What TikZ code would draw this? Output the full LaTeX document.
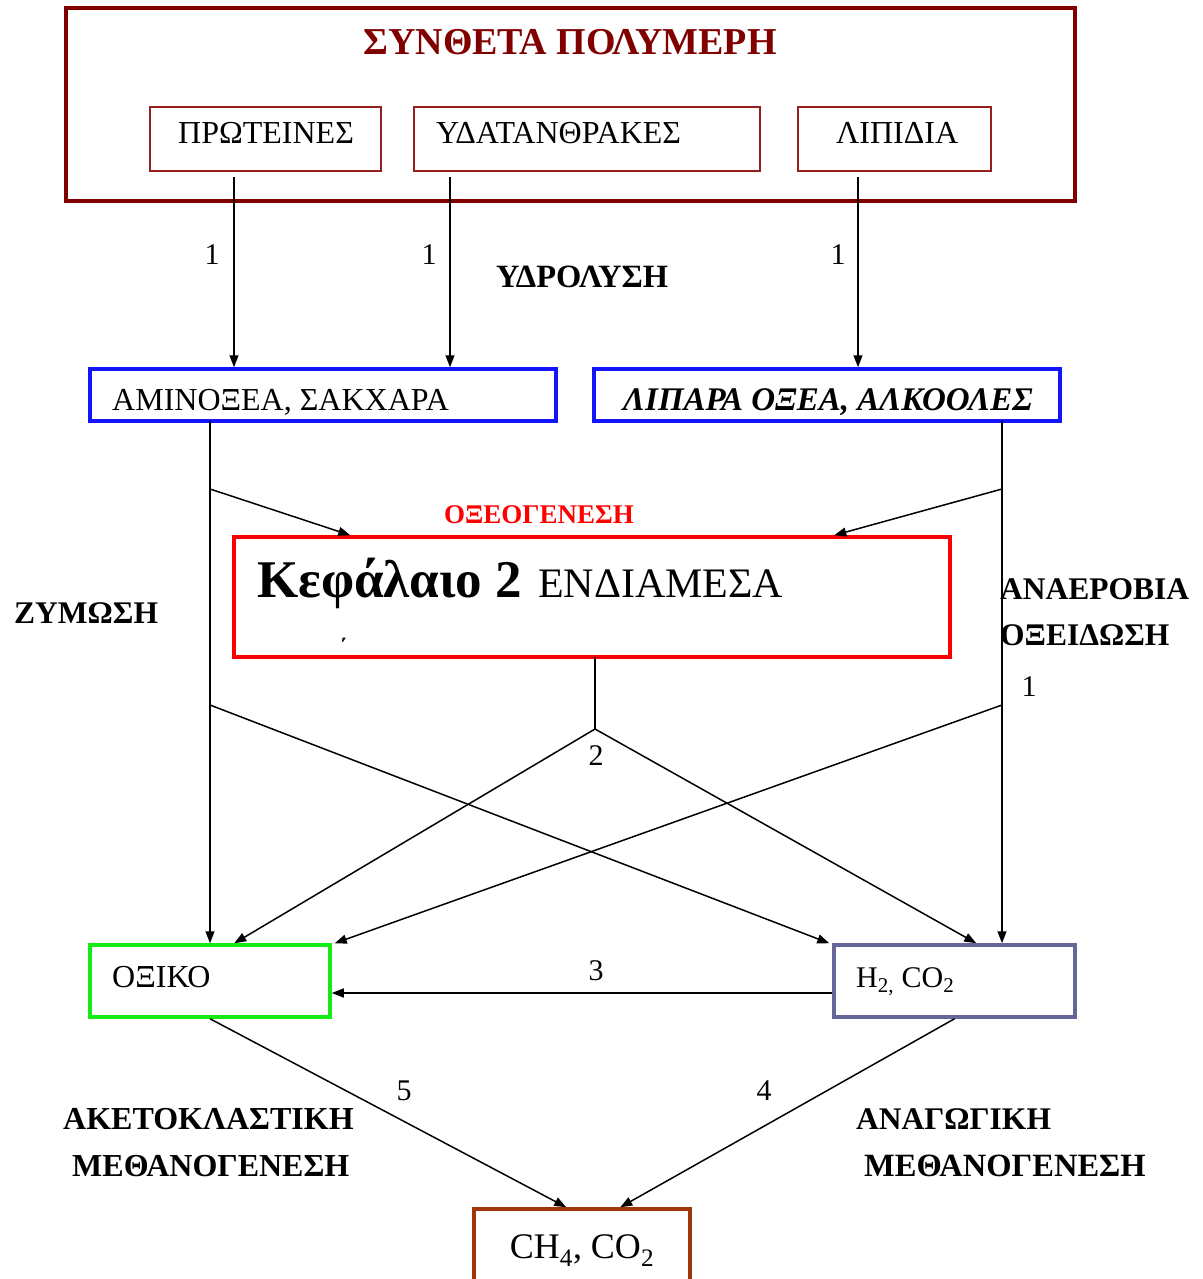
\documentclass[tikz,border=0pt]{standalone}
\usepackage{fontspec}
\setmainfont{Liberation Serif}
\usetikzlibrary{arrows.meta}
\newcommand\FSz[1]{\fontsize{#1}{#1}\selectfont}
\definecolor{dred}{RGB}{128,0,0}
\definecolor{sred}{RGB}{150,30,30}
\definecolor{bblue}{RGB}{20,20,255}
\definecolor{grn}{RGB}{20,235,20}
\definecolor{slate}{RGB}{102,102,153}
\definecolor{brn}{RGB}{160,55,10}
\begin{document}
\begin{tikzpicture}[x=1pt,y=-1pt,
  box/.style={draw,rectangle,inner sep=0pt},
  txt/.style={anchor=base west,inner sep=0pt,font=\FSz{32}},
  lbl/.style={anchor=base west,inner sep=0pt,font=\FSz{31.5}\bfseries},
  num/.style={anchor=base,inner sep=0pt,font=\FSz{30}},
  arr/.style={line width=1.5pt,-{Triangle[length=12pt,width=9pt]}},
  ln/.style={line width=1.5pt}]
\useasboundingbox (0,0) rectangle (1202,1279);
\fill[white] (0,0) rectangle (1202,1279);
% boxes
\node[box,dred,line width=4pt,minimum width=1009pt,minimum height=193pt] (poly) at (570.5,104.5) {};
\node[box,sred,line width=2pt,minimum width=231pt,minimum height=64pt] (prot) at (265.5,139) {};
\node[box,sred,line width=2pt,minimum width=346pt,minimum height=64pt] (ydat) at (587,139) {};
\node[box,sred,line width=2pt,minimum width=193pt,minimum height=64pt] (lip) at (894.5,139) {};
\node[box,bblue,line width=3.5pt,minimum width=466pt,minimum height=52pt] (amin) at (323,395) {};
\node[box,bblue,line width=3.5pt,minimum width=466pt,minimum height=52pt] (lipa) at (827,395) {};
\node[box,red,line width=3.5pt,minimum width=716pt,minimum height=120pt] (inter) at (592,597) {};
\node[box,grn,line width=3.5pt,minimum width=240pt,minimum height=72pt] (oxi) at (210,981) {};
\node[box,slate,line width=3.5pt,minimum width=241pt,minimum height=72pt] (h2) at (954.5,981) {};
\node[box,brn,line width=3.5pt,minimum width=216pt,minimum height=81pt] (ch4) at (582,1249.5) {};
% texts
\node[anchor=base,inner sep=0pt,font=\FSz{38}\bfseries,text=dred] (tpoly) at (570,55) {ΣΥΝΘΕΤΑ ΠΟΛΥΜΕΡΗ};
\node[txt] (tprot) at (178,143) {ΠΡΩΤΕΙΝΕΣ};
\node[txt] (tydat) at (436,143) {ΥΔΑΤΑΝΘΡΑΚΕΣ};
\node[txt] (tlip) at (836,143) {ΛΙΠΙΔΙΑ};
\node[txt] (tamin) at (112,410) {ΑΜΙΝΟΞΕΑ, ΣΑΚΧΑΡΑ};
\node[txt,font=\FSz{33}\bfseries\itshape] (tlipa) at (623,410) {ΛΙΠΑΡΑ ΟΞΕΑ, ΑΛΚΟΟΛΕΣ};
\node[anchor=base,inner sep=0pt,font=\FSz{27}\bfseries,text=red] (toxeo) at (539,523) {ΟΞΕΟΓΕΝΕΣΗ};
\node[txt,font=\FSz{53}\bfseries] (tkef) at (257,597) {Κεφάλαιο 2};
\node[txt,font=\FSz{42}] (tendi) at (538,597) {ΕΝΔΙΑΜΕΣΑ};
\node[anchor=center,inner sep=0pt,font=\FSz{22}\bfseries] (tmark) at (343,646) {΄};
\node[txt] (toxi) at (112,987) {ΟΞΙΚΟ};
\node[txt,font=\FSz{30}] (th2) at (856,987) {H\textsubscript{2,} CO\textsubscript{2}};
\node[anchor=base,inner sep=0pt,font=\FSz{36}] (tch4) at (582,1258) {CH\textsubscript{4}, CO\textsubscript{2}};
% labels
\node[lbl,font=\FSz{32.5}\bfseries] (lydr) at (496,287) {ΥΔΡΟΛΥΣΗ};
\node[lbl] (lzym) at (14,623) {ΖΥΜΩΣΗ};
\node[lbl] (lana) at (1000,599) {ΑΝΑΕΡΟΒΙΑ};
\node[lbl] (loxe) at (1000,645) {ΟΞΕΙΔΩΣΗ};
\node[lbl,font=\FSz{32}\bfseries] (lake) at (63,1129) {ΑΚΕΤΟΚΛΑΣΤΙΚΗ};
\node[lbl,font=\FSz{32}\bfseries] (lme1) at (72,1176) {ΜΕΘΑΝΟΓΕΝΕΣΗ};
\node[lbl] (lanag) at (856,1129) {ΑΝΑΓΩΓΙΚΗ};
\node[lbl,font=\FSz{32.5}\bfseries] (lme2) at (864,1176) {ΜΕΘΑΝΟΓΕΝΕΣΗ};
% numbers
\node[num] (n1a) at (212,264) {1};
\node[num] (n1b) at (429,264) {1};
\node[num] (n1c) at (838,264) {1};
\node[num] (n1d) at (1029,696) {1};
\node[num] (n2) at (596,765) {2};
\node[num] (n3) at (596,980) {3};
\node[num] (n4) at (764,1100) {4};
\node[num] (n5) at (404,1100) {5};
% coordinates
\coordinate (p1) at (234,177);
\coordinate (p2) at (450,177);
\coordinate (p3) at (858,177);
\coordinate (l0) at (210,421);
\coordinate (l1) at (210,489);
\coordinate (l2) at (210,705);
\coordinate (r0) at (1002,421);
\coordinate (r1) at (1002,489);
\coordinate (r2) at (1002,705);
\coordinate (m0) at (595,657);
\coordinate (m1) at (595,729);
% connectors
\draw[arr] (p1) -- (p1 |- amin.north);
\draw[arr] (p2) -- (p2 |- amin.north);
\draw[arr] (p3) -- (p3 |- lipa.north);
\draw[arr] (l0) -- (l0 |- oxi.north);
\draw[arr] (l1) -- ([xshift=118pt]inter.north west);
\draw[arr] (l2) -- ([xshift=-3pt]h2.north west);
\draw[arr] (r0) -- (r0 |- h2.north);
\draw[arr] (r1) -- ([xshift=602pt]inter.north west);
\draw[arr] (r2) -- ([xshift=3pt]oxi.north east);
\draw[ln] (m0) -- (m1);
\draw[arr] (m1) -- ([xshift=146pt]oxi.north west);
\draw[arr] (m1) -- ([xshift=144pt]h2.north west);
\draw[arr] ([yshift=-12pt]h2.west) -- ([yshift=-12pt]oxi.east);
\draw[arr] (oxi.south) -- ([xshift=94pt]ch4.north west);
\draw[arr] (h2.south) -- ([xshift=148pt]ch4.north west);
\end{tikzpicture}
\end{document}
